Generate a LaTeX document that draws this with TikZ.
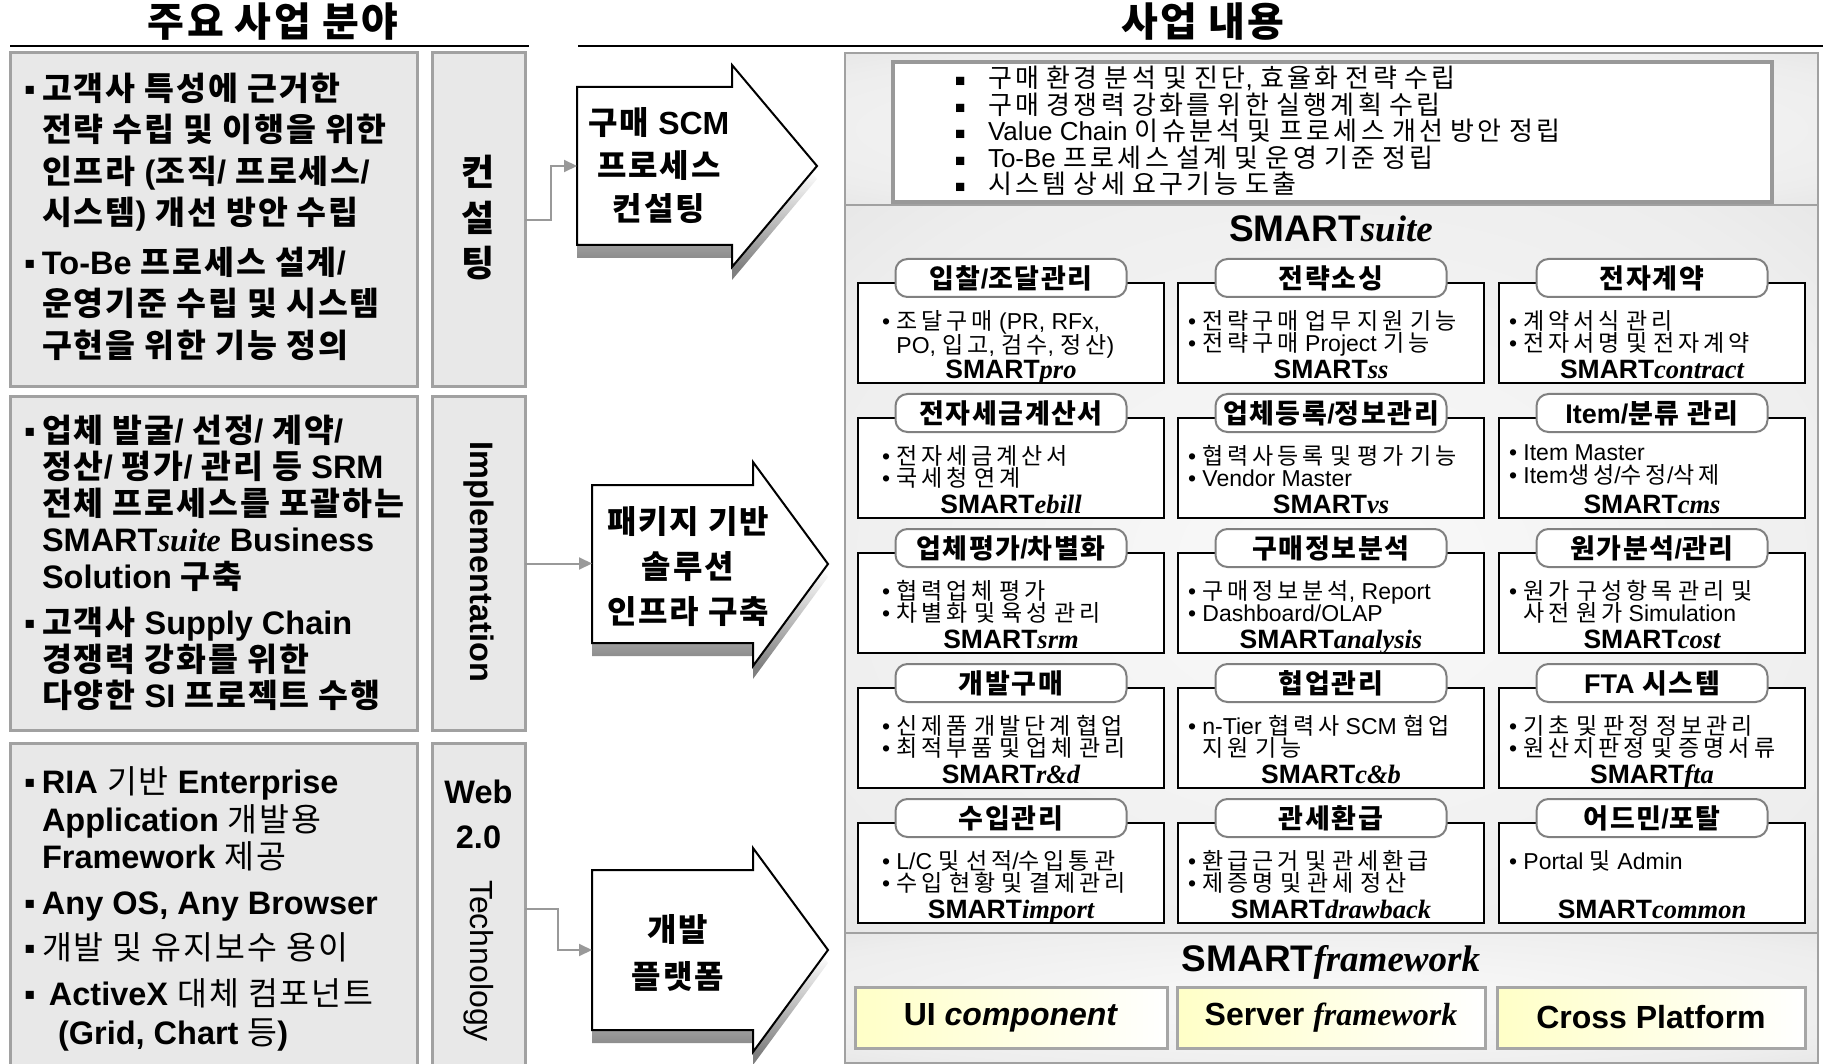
\documentclass[tikz,border=0pt]{standalone}
\usepackage{fontspec}
\setmainfont{Liberation Sans}
\newfontfamily\krfont{Noto Sans CJK KR}
\newfontfamily\krA{Noto Sans CJK KR}[LetterSpace=6]
\newfontfamily\krB{Noto Sans CJK KR}[LetterSpace=13]
\newfontfamily\krC{Noto Sans CJK KR}[LetterSpace=17]
\newfontfamily\tmsfont{Liberation Serif}
\usetikzlibrary{arrows.meta,calc}

% automatic switch to the Korean font for Hangul syllables
\XeTeXinterchartokenstate=1
\newXeTeXintercharclass\krclass
\newcount\krc
\krc="AC00
\loop
  \XeTeXcharclass\krc=\krclass
  \ifnum\krc<"D7A3
  \advance\krc by 1
\repeat
\def\krhook{\krA}
\newcount\krj
\krj=0
\loop
  \XeTeXinterchartoks\krj\krclass={\begingroup\krhook}%
  \XeTeXinterchartoks\krclass\krj={\endgroup}%
  \ifnum\krj<\numexpr\krclass-1\relax
  \advance\krj by 1
\repeat
\XeTeXinterchartoks 4095 \krclass={\begingroup\krhook}
\XeTeXinterchartoks \krclass 4095={\endgroup}

\pgfdeclareverticalshading{shfade}{100bp}{color(0bp)=(black!50); color(28bp)=(black!50); color(52bp)=(white); color(100bp)=(white)}
\pgfdeclareradialshading{panelshade}{\pgfpoint{0bp}{0bp}}{color(0bp)=(black!2); color(30bp)=(black!7); color(50bp)=(black!15); color(72bp)=(black!20)}

\newcommand\smartlab[1]{\textbf{SMART}{\tmsfont\bfseries\itshape #1}}
\newcommand\wbul{\makebox[33pt][l]{\fontsize{17}{17}\selectfont\raisebox{1pt}{■}}}
\newcommand\lbul{\makebox[18pt][l]{▪}}
\newcommand\lind{\hspace*{18pt}}

\tikzset{
  every node/.style={inner sep=0pt, outer sep=0pt},
  lbox/.style={draw=black!37, line width=3pt, fill=black!9, anchor=north west},
  sect/.style={draw=black!37, line width=2.5pt, shade, shading=panelshade, anchor=north west, minimum width=973pt},
  modbox/.style={draw=black, line width=2.5pt, fill=white, minimum width=306pt, minimum height=100pt, anchor=north},
  pill/.style={draw=black!50, line width=2pt, fill=white, rounded corners=12pt, minimum width=231pt, minimum height=38pt, font=\bfseries\fontsize{27}{27}\selectfont},
  modbody/.style={anchor=north west, align=left, font={\def\krhook{\krC}\fontsize{23}{22.5}\selectfont}},
  modsmart/.style={anchor=base, font=\fontsize{26.5}{26.5}\selectfont},
  conn/.style={draw=black!40, line width=2pt, -{Triangle[length=13pt,width=12pt]}},
  blockout/.style={draw=black, line width=2pt, fill=white, line join=miter},
  fwbox/.style={draw=black!35, line width=3pt, left color=yellow!22, right color=white, minimum width=310pt, minimum height=61pt, anchor=north west, font=\bfseries\fontsize{32}{32}\selectfont},
  lefttxt/.style={anchor=north west, align=left},
  arrtxt/.style={align=center},
  headtxt/.style={font=\bfseries\fontsize{40}{40}\selectfont},
}

\newcommand\blockarrow[4]{%
  \path (#1.north west) coordinate (#1-p1)
        (#1.north east) coordinate (#1-p2)
        ($(#1.north east)+(0,-#2)$) coordinate (#1-p3)
        ($(#1.east)+(#3,0)$) coordinate (#1-p4)
        ($(#1.south east)+(0,#2)$) coordinate (#1-p5)
        (#1.south east) coordinate (#1-p6)
        (#1.south west) coordinate (#1-p7);
  \shade[shading=shfade] ($(#1-p1)+(0,#4)$) -- ($(#1-p2)+(0,#4)$) -- ($(#1-p3)+(0,#4)$) -- ($(#1-p4)+(0,#4)$) -- ($(#1-p5)+(0,#4)$) -- ($(#1-p6)+(0,#4)$) -- ($(#1-p7)+(0,#4)$) -- cycle;
  \draw[blockout] (#1-p1) -- (#1-p2) -- (#1-p3) -- (#1-p4) -- (#1-p5) -- (#1-p6) -- (#1-p7) -- cycle;
}

% #1 name, #2 centre x, #3 top y, #4 title, #5 body, #6 suffix, #7 body indent
\newcommand\module[7]{%
  \node[modbox] (#1) at (#2,#3) {};
  \node[pill] (#1t) at ($(#1.north)+(0,-5)$) {#4};
  \node[modbody] (#1b) at ($(#1.north west)+(#7,27)$) {#5};
  \node[modsmart] (#1s) at ($(#1.north)+(0,95)$) {\smartlab{#6}};
}

\begin{document}
\begin{tikzpicture}[x=1pt,y=-1pt]
\useasboundingbox (0,0) rectangle (1823,1064);

% headers
\node[headtxt] (h1) at (273,22) {주요 사업 분야};
\node[headtxt] (h2) at (1203,22) {사업 내용};
\draw[line width=2.5pt] (10,46) -- (529,46);
\draw[line width=2.5pt] (578,46) -- (1823,46);

% right panel sections
\node[sect, minimum height=152pt] (sec1) at (845,53) {};
\node[sect, minimum height=728pt] (sec2) at (845,205) {};
\node[sect, minimum height=130pt] (sec3) at (845,933) {};

% consulting white box
\node[draw=black!40, line width=3.5pt, fill=white, minimum width=879pt, minimum height=140pt, anchor=north west] (wb) at (893,62) {};
\node[lefttxt, font={\def\krhook{\krB}\fontsize{26}{26.5}\selectfont}] (wbt) at (955,66)
 {\wbul 구매 환경 분석 및 진단, 효율화 전략 수립\\
  \wbul 구매 경쟁력 강화를 위한 실행계획 수립\\
  \wbul Value Chain 이슈분석 및 프로세스 개선 방안 정립\\
  \wbul To-Be 프로세스 설계 및 운영 기준 정립\\
  \wbul 시스템 상세 요구기능 도출};

\node[font=\fontsize{37}{37}\selectfont] (suite) at (1331,229) {\smartlab{suite}};

% modules
\module{m11}{1011}{283}{입찰/조달관리}{• 조달구매 (PR, RFx,\\\hphantom{• }PO, 입고, 검수, 정산)}{pro}{24}
\module{m12}{1331}{283}{전략소싱}{• 전략구매 업무 지원 기능\\• 전략구매 Project 기능}{ss}{10}
\module{m13}{1652}{283}{전자계약}{• 계약서식 관리\\• 전자서명 및 전자계약}{contract}{10}
\module{m21}{1011}{418}{전자세금계산서}{• 전자세금계산서\\• 국세청 연계}{ebill}{24}
\module{m22}{1331}{418}{업체등록/정보관리}{• 협력사등록 및 평가 기능\\• Vendor Master}{vs}{10}
\module{m23}{1652}{418}{Item/분류 관리}{• Item Master\\• Item생성/수정/삭제}{cms}{10}
\module{m31}{1011}{553}{업체평가/차별화}{• 협력업체 평가\\• 차별화 및 육성 관리}{srm}{24}
\module{m32}{1331}{553}{구매정보분석}{• 구매정보분석, Report\\• Dashboard/OLAP}{analysis}{10}
\module{m33}{1652}{553}{원가분석/관리}{• 원가 구성항목 관리 및\\\hphantom{• }사전 원가 Simulation}{cost}{10}
\module{m41}{1011}{688}{개발구매}{• 신제품 개발단계 협업\\• 최적부품 및 업체 관리}{r\&d}{24}
\module{m42}{1331}{688}{협업관리}{• n-Tier 협력사 SCM 협업\\\hphantom{• }지원 기능}{c\&b}{10}
\module{m43}{1652}{688}{FTA 시스템}{• 기초 및 판정 정보관리\\• 원산지판정 및 증명서류}{fta}{10}
\module{m51}{1011}{823}{수입관리}{• L/C 및 선적/수입통관\\• 수입 현황 및 결제관리}{import}{24}
\module{m52}{1331}{823}{관세환급}{• 환급근거 및 관세환급\\• 제증명 및 관세 정산}{drawback}{10}
\module{m53}{1652}{823}{어드민/포탈}{• Portal 및 Admin}{common}{10}

% framework
\node[font=\fontsize{37}{37}\selectfont] (fw) at (1331,962) {\smartlab{framework}};
\node[fwbox, minimum width=312pt] (fw1) at (855,987) {UI \textit{component}};
\node[fwbox, minimum width=308pt] (fw2) at (1177,987) {Server {\tmsfont\bfseries\itshape framework}};
\node[fwbox, minimum width=308pt] (fw3) at (1497,987) {Cross Platform};

% left boxes
\node[lbox, minimum width=407pt, minimum height=334pt] (lb1) at (10,53) {};
\node[lbox, minimum width=93pt, minimum height=334pt] (lab1) at (432,53) {};
\node[lbox, minimum width=407pt, minimum height=333pt] (lb2) at (10,397) {};
\node[lbox, minimum width=93pt, minimum height=333pt] (lab2) at (432,397) {};
\node[lbox, minimum width=407pt, minimum height=332pt] (lb3) at (10,743) {};
\node[lbox, minimum width=93pt, minimum height=332pt] (lab3) at (432,743) {};

\node[lefttxt, font=\bfseries\fontsize{32.5}{41.5}\selectfont] (lt1) at (24,73)
 {\lbul 고객사 특성에 근거한\\
  \lind 전략 수립 및 이행을 위한\\
  \lind 인프라 (조직/ 프로세스/\\
  \lind 시스템) 개선 방안 수립\\[8pt]
  \lbul To-Be 프로세스 설계/\\
  \lind 운영기준 수립 및 시스템\\
  \lind 구현을 위한 기능 정의};
\node[lefttxt, font=\bfseries\fontsize{32.5}{36.5}\selectfont] (lt2) at (24,415)
 {\lbul 업체 발굴/ 선정/ 계약/\\
  \lind 정산/ 평가/ 관리 등 SRM\\
  \lind 전체 프로세스를 포괄하는\\
  \lind SMART{\tmsfont\itshape suite} Business\\
  \lind Solution 구축\\[10pt]
  \lbul 고객사 Supply Chain\\
  \lind 경쟁력 강화를 위한\\
  \lind 다양한 SI 프로젝트 수행};
\node[lefttxt, font={\def\krhook{\krA\mdseries}\bfseries\fontsize{32.5}{37.5}\selectfont}] (lt3) at (24,767)
 {\lbul RIA 기반 Enterprise\\
  \lind Application 개발용\\
  \lind Framework 제공\\[8pt]
  \lbul Any OS, Any Browser\\[8pt]
  \lbul 개발 및 유지보수 용이\\[8pt]
  \lbul\hspace*{7pt}ActiveX 대체 컴포넌트\\[2pt]
  \hspace*{34pt}(Grid, Chart 등)};

\node[align=center, font=\bfseries\fontsize{36}{45.5}\selectfont] (lab1t) at (478.5,218) {컨\\설\\팅};
\node[rotate=-90, font=\bfseries\fontsize{32.5}{32.5}\selectfont] (lab2t) at (478.5,562) {Implementation};
\node[align=center, font=\bfseries\fontsize{32.5}{45}\selectfont] (lab3a) at (478.5,814) {Web\\2.0};
\node[rotate=-90, font=\fontsize{32}{32}\selectfont] (lab3b) at (478.5,961) {Technology};

% block arrows
\node[minimum width=155pt, minimum height=158pt] (a1) at (654.5,166) {};
\node[minimum width=161pt, minimum height=158pt] (a2) at (672.5,564) {};
\node[minimum width=161pt, minimum height=160pt] (a3) at (672.5,950) {};
\blockarrow{a1}{22}{85}{13}
\blockarrow{a2}{23}{75}{13}
\blockarrow{a3}{22}{75}{13}
\node[arrtxt, font=\bfseries\fontsize{32}{43}\selectfont] (a1t) at (659,166) {구매 SCM\\프로세스\\컨설팅};
\node[arrtxt, font=\bfseries\fontsize{32}{45}\selectfont] (a2t) at (688,567) {패키지 기반\\솔루션\\인프라 구축};
\node[arrtxt, font=\bfseries\fontsize{32}{47}\selectfont] (a3t) at (678,953) {개발\\플랫폼};

% connectors
\draw[conn] (lab1.east) -- ++(26,0) |- (a1.west);
\draw[conn] (lab2.east) -- (lab2.east -| a2.west);
\draw[conn] (lab3.east) -- ++(33,0) |- (a3.west);
\end{tikzpicture}
\end{document}
